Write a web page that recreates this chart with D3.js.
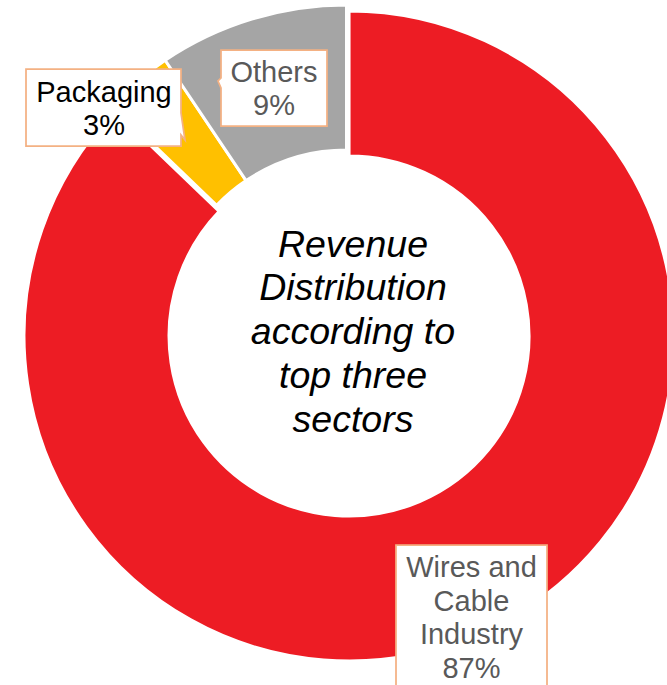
<!DOCTYPE html>
<html>
<head>
<meta charset="utf-8">
<script src="https://cdn.jsdelivr.net/npm/d3@7"></script>
<style>
  html, body { margin: 0; padding: 0; background: #fff; }
  svg { display: block; }
</style>
</head>
<body>
<svg id="chart" width="667" height="685"></svg>
<script>
// ---- data ----
const categories = ["Wires and Cable Industry", "Packaging", "Others"];
const shares = [87, 3.4, 9.4];
const percentLabels = ["87%", "3%", "9%"];
const labelLines = [["Wires and", "Cable", "Industry"], ["Packaging"], ["Others"]];
const sliceColors = ["#ED1C24", "#FFC000", "#A5A5A5"];
const labelColors = ["#595959", "#000000", "#595959"];
const centerTitle = ["Revenue", "Distribution", "according to", "top three", "sectors"];

// ---- layout ----
const W = 667, H = 685;
const cx = 346.5, cy = 330;
const outerR = 325, innerR = 180;
const explode = [6.5, 0, 0];
// label boxes: x, y, w, h, text center x, first baseline, line height, pointer
const labelLayout = [
  { x: 396, y: 545, w: 151, h: 160, tx: 471.5, by: 577, lh: 33.5, ptr: null },
  { x: 26, y: 69, w: 155, h: 77, tx: 104, by: 102, lh: 33, ptr: "right" },
  { x: 221, y: 50, w: 106, h: 76, tx: 274, by: 82, lh: 33, ptr: "left" }
];

const svg = d3.select("#chart");
const g = svg.append("g").attr("transform", `translate(${cx},${cy})`);

const pie = d3.pie().sort(null).value(d => d).startAngle(0).endAngle(2 * Math.PI);
const arcs = pie(shares);
const arc = d3.arc().innerRadius(innerR).outerRadius(outerR);

g.selectAll("path.slice")
  .data(arcs)
  .join("path")
  .attr("class", "slice")
  .attr("d", arc)
  .attr("fill", (d, i) => sliceColors[i])
  .attr("stroke", "#fff")
  .attr("stroke-width", 3)
  .attr("transform", (d, i) => {
    const mid = (d.startAngle + d.endAngle) / 2;
    const off = explode[i];
    return `translate(${Math.sin(mid) * off},${-Math.cos(mid) * off})`;
  });

// center title
const title = svg.append("text")
  .attr("x", 353)
  .attr("y", 256.5)
  .attr("text-anchor", "middle")
  .attr("font-family", "'Liberation Sans', Arial, sans-serif")
  .attr("font-style", "italic")
  .attr("font-size", 37.5)
  .attr("fill", "#000");
title.selectAll("tspan")
  .data(centerTitle)
  .join("tspan")
  .attr("x", 353)
  .attr("dy", (d, i) => i === 0 ? 0 : 43.8)
  .text(d => d);

// labels
const labels = svg.append("g").attr("class", "labels");
labelLayout.forEach((L, i) => {
  const grp = labels.append("g");
  let p;
  const x0 = L.x, y0 = L.y, x1 = L.x + L.w, y1 = L.y + L.h;
  if (L.ptr === "right") {
    p = `M${x0},${y0}H${x1}V${y0 + 44}L${x1 + 4},${y0 + 71}L${x1},${y0 + 66}V${y1}H${x0}Z`;
  } else if (L.ptr === "left") {
    p = `M${x0},${y0}H${x1}V${y1}H${x0}V${y0 + 38}L${x0 - 3},${y0 + 31}L${x0},${y0 + 28}Z`;
  } else {
    p = `M${x0},${y0}H${x1}V${y1}H${x0}Z`;
  }
  grp.append("path")
    .attr("d", p)
    .attr("fill", "#fff")
    .attr("stroke", "#F4B183")
    .attr("stroke-width", 1.75);
  const lines = labelLines[i].concat([percentLabels[i]]);
  const t = grp.append("text")
    .attr("x", L.tx)
    .attr("y", L.by)
    .attr("text-anchor", "middle")
    .attr("font-family", "'Liberation Sans', Arial, sans-serif")
    .attr("font-size", 29)
    .attr("fill", labelColors[i]);
  t.selectAll("tspan")
    .data(lines)
    .join("tspan")
    .attr("x", L.tx)
    .attr("dy", (d, j) => j === 0 ? 0 : L.lh)
    .text(d => d);
});
</script>
</body>
</html>
